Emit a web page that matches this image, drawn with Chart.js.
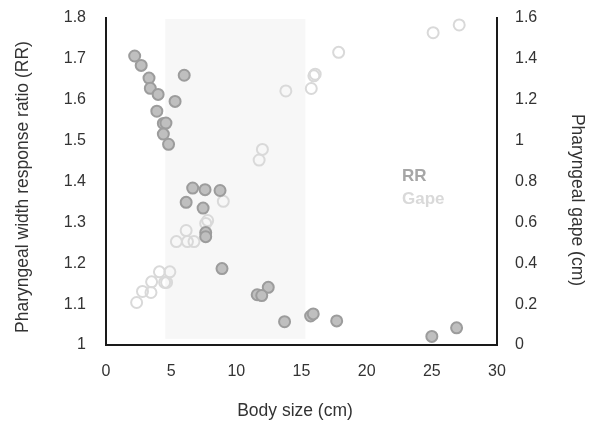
<!DOCTYPE html>
<html lang="en">
<head>
  <meta charset="UTF-8">
  <title>Pharyngeal width response ratio vs body size</title>
  <script src="https://cdn.jsdelivr.net/npm/chart.js"></script>
  <style>
    html, body { margin: 0; padding: 0; background: #fff; }
  </style>
</head>
<body>
  <canvas id="grafico" width="595" height="427"></canvas>

<script>
  // response ratio (filled points, left axis)
  const rrX = [2.2, 2.7, 3.3, 3.4, 4.0, 6.0, 5.3, 3.9, 4.4, 4.6, 4.4, 4.8,
               6.65, 7.6, 8.75, 6.15, 7.45, 7.65, 7.65, 8.9,
               12.45, 11.6, 11.95, 13.7, 15.7, 15.9, 17.7, 25.0, 26.9];
  const rrY = [1.707, 1.684, 1.653, 1.628, 1.613, 1.660, 1.596, 1.572, 1.542, 1.543, 1.516, 1.491,
               1.384, 1.380, 1.378, 1.349, 1.335, 1.275, 1.265, 1.187,
               1.141, 1.123, 1.121, 1.057, 1.071, 1.076, 1.059, 1.021, 1.042];

  // pharyngeal gape (open points, right axis)
  const gapeX = [2.35, 2.8, 3.45, 3.5, 4.1, 4.9, 4.5, 4.65, 5.4, 6.25, 6.75, 6.15,
                 7.65, 7.8, 9.0, 11.75, 12.0, 13.8, 15.75, 15.95, 16.05, 17.85, 25.1, 27.1];
  const gapeY = [0.208, 0.262, 0.257, 0.309, 0.358, 0.358, 0.306, 0.306, 0.506, 0.506, 0.506, 0.560,
                 0.595, 0.609, 0.703, 0.905, 0.957, 1.243, 1.255, 1.317, 1.325, 1.432, 1.528, 1.566];

  const xTicks = [0, 5, 10, 15, 20, 25, 30];
  const rrTicks = [1, 1.1, 1.2, 1.3, 1.4, 1.5, 1.6, 1.7, 1.8];
  const gapeTicks = [0, 0.2, 0.4, 0.6, 0.8, 1, 1.2, 1.4, 1.6];

  // shaded body size window
  const faixaInicio = 4.55;
  const faixaFim = 15.3;
  const faixaBase = 1.015;

  const legendas = ["RR", "Gape"];
  const titulos = {
    x: "Body size (cm)",
    y: "Pharyngeal width response ratio (RR)",
    y2: "Pharyngeal gape (cm)"
  };

  function juntar(xs, ys) {
    return xs.map((x, i) => ({ x: x, y: ys[i] }));
  }

  function fixarTicks(lista) {
    return function (scale) {
      scale.ticks = lista.map(v => ({ value: v }));
    };
  }

  const familia = "Liberation Sans, Arial, sans-serif";
  const fonteTick = { family: familia, size: 16 };

  const faixaPlugin = {
    id: 'faixa',
    beforeDatasetsDraw(chart) {
      const { ctx, scales } = chart;
      const x1 = scales.x.getPixelForValue(faixaInicio);
      const x2 = scales.x.getPixelForValue(faixaFim);
      const y1 = scales.y.getPixelForValue(1.8) + 1;
      const y2 = scales.y.getPixelForValue(faixaBase);
      ctx.save();
      ctx.fillStyle = '#f7f7f7';
      ctx.fillRect(x1, y1, x2 - x1, y2 - y1);
      ctx.restore();
    }
  };

  // textos: legenda e titulos dos eixos
  const textosPlugin = {
    id: 'textos',
    afterDatasetsDraw(chart) {
      const { ctx, chartArea } = chart;
      ctx.save();
      ctx.textAlign = 'left';
      ctx.textBaseline = 'middle';
      ctx.font = "bold 17px " + familia;
      ctx.fillStyle = '#a6a6a6';
      ctx.fillText(legendas[0], chartArea.left + 296, 176);
      ctx.fillStyle = '#d9d9d9';
      ctx.fillText(legendas[1], chartArea.left + 296, 199);

      ctx.font = "17.5px " + familia;
      ctx.fillStyle = '#333';
      ctx.textAlign = 'center';
      ctx.fillText(titulos.x, 295, 411);

      ctx.save();
      ctx.translate(23, 187);
      ctx.rotate(-Math.PI / 2);
      ctx.fillText(titulos.y, 0, 0);
      ctx.restore();

      ctx.save();
      ctx.translate(577, 200);
      ctx.rotate(Math.PI / 2);
      ctx.fillText(titulos.y2, 0, 0);
      ctx.restore();

      ctx.restore();
    }
  };

  new Chart(document.getElementById('grafico'), {
    type: 'scatter',
    data: {
      datasets: [
        {
          label: 'RR',
          data: juntar(rrX, rrY),
          yAxisID: 'y',
          backgroundColor: '#bfbfbf',
          borderColor: '#9c9c9c',
          borderWidth: 2,
          pointRadius: 5.5
        },
        {
          label: 'Gape',
          data: juntar(gapeX, gapeY),
          yAxisID: 'y2',
          backgroundColor: 'rgba(0,0,0,0)',
          borderColor: '#d9d9d9',
          borderWidth: 2,
          pointRadius: 5.5
        }
      ]
    },
    options: {
      responsive: false,
      animation: false,
      layout: { padding: { top: 18, left: 0, right: 0, bottom: 0 } },
      plugins: {
        legend: { display: false },
        tooltip: { enabled: false }
      },
      scales: {
        x: {
          type: 'linear',
          min: 0,
          max: 30,
          afterBuildTicks: fixarTicks(xTicks),
          afterFit: s => { s.height = 82; },
          grid: { display: false, drawTicks: false },
          border: { display: true, color: '#1a1a1a', width: 2 },
          ticks: { color: '#333', font: fonteTick, padding: 17 }
        },
        y: {
          position: 'left',
          min: 1,
          max: 1.8,
          afterBuildTicks: fixarTicks(rrTicks),
          afterFit: s => { s.width = 106; },
          // tick marks hidden, tickLength only spaces the labels from the axis
          grid: { display: false, drawTicks: true, tickLength: 20 },
          border: { display: true, color: '#1a1a1a', width: 2 },
          ticks: { color: '#333', font: fonteTick, padding: 0, callback: v => String(+v.toFixed(2)) }
        },
        y2: {
          position: 'right',
          min: 0,
          max: 1.6,
          afterBuildTicks: fixarTicks(gapeTicks),
          afterFit: s => { s.width = 98; },
          grid: { display: false, drawTicks: true, tickLength: 18 },
          border: { display: true, color: '#1a1a1a', width: 2 },
          ticks: { color: '#333', font: fonteTick, padding: 0, callback: v => String(+v.toFixed(2)) }
        }
      }
    },
    plugins: [faixaPlugin, textosPlugin]
  });
</script>
</body>
</html>
